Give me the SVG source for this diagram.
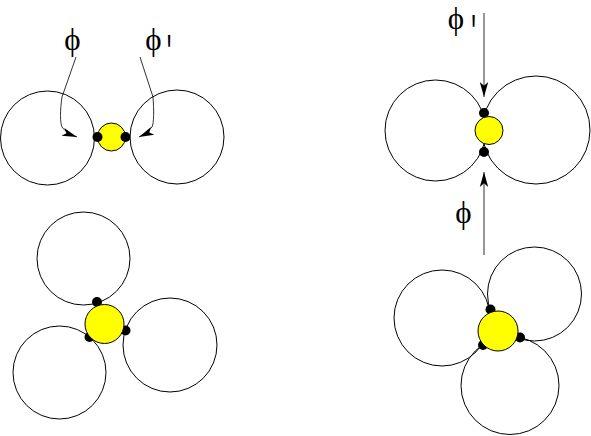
<svg xmlns="http://www.w3.org/2000/svg" width="591" height="436" viewBox="0 0 591 436">
<defs>
<style>
.c{fill:none;stroke:#000;stroke-width:1}
.y{fill:#ffff00;stroke:#000;stroke-width:1}
.d{fill:#000}
.a{fill:none;stroke:#333;stroke-width:1}
.t{font-family:"Liberation Serif","Times New Roman",serif;font-size:31px;fill:#000}
.p{font-family:"Liberation Sans",Arial,sans-serif;font-size:54px;fill:#000}
</style>
<marker id="ah" viewBox="0 0 10 10" refX="10" refY="5" markerWidth="15" markerHeight="15" markerUnits="userSpaceOnUse" orient="auto">
<path d="M0,2.2 L10,5 L0,7.8 L2.5,5 Z" fill="#000"/>
</marker>
</defs>
<g id="connectors">
<path class="a" d="M76,57 L62,97 C60,110 60,123 62,127 Q66,133 77,137" marker-end="url(#ah)"/>
<path class="a" d="M140,57 L153,97 C154,110 154,123 152,127 Q148,133 139,137" marker-end="url(#ah)"/>
<path class="a" d="M484,13 L484,97" marker-end="url(#ah)"/>
<path class="a" d="M484,255 L484,172" marker-end="url(#ah)"/>
</g>
<g id="cluster-top-left">
<circle class="c" cx="47.5" cy="138" r="47"/>
<circle class="c" cx="177" cy="137" r="47"/>
<circle class="y" cx="111.5" cy="137" r="14"/>
<circle class="d" cx="97.5" cy="137" r="5"/>
<circle class="d" cx="125.5" cy="137" r="5"/>
</g>
<g id="cluster-top-right">
<circle class="c" cx="435.5" cy="130.5" r="50.5"/>
<circle class="c" cx="536" cy="130" r="54"/>
<circle class="d" cx="484" cy="113" r="5"/>
<circle class="d" cx="484" cy="152" r="5"/>
<circle class="y" cx="489" cy="130.5" r="14"/>
</g>
<g id="cluster-bottom-left">
<circle class="c" cx="83.5" cy="258.5" r="46.5"/>
<circle class="c" cx="170" cy="345" r="47"/>
<circle class="c" cx="59.5" cy="372.5" r="46.5"/>
<circle class="d" cx="97" cy="302" r="5"/>
<circle class="d" cx="125.5" cy="330.5" r="5"/>
<circle class="d" cx="89.5" cy="337" r="5"/>
<circle class="y" cx="104.5" cy="324" r="19.5"/>
</g>
<g id="cluster-bottom-right">
<circle class="c" cx="442" cy="318" r="48"/>
<circle class="c" cx="534.5" cy="294" r="47"/>
<circle class="c" cx="510" cy="385.5" r="49"/>
<circle class="d" cx="490.5" cy="309.5" r="5"/>
<circle class="d" cx="520" cy="337.5" r="5"/>
<circle class="d" cx="483" cy="345" r="5"/>
<circle class="y" cx="498" cy="331" r="20"/>
</g>
<g id="labels">
<text class="t" x="72.5" y="50" text-anchor="middle">ϕ</text>
<text class="t" x="153.5" y="50" text-anchor="middle">ϕ</text>
<text class="p" text-anchor="middle" transform="translate(169,72) scale(0.45,1)">'</text>
<text class="t" x="456" y="29" text-anchor="middle">ϕ</text>
<text class="p" text-anchor="middle" transform="translate(473.5,52) scale(0.45,1)">'</text>
<text class="t" x="463.5" y="223" text-anchor="middle">ϕ</text>
</g>
</svg>
